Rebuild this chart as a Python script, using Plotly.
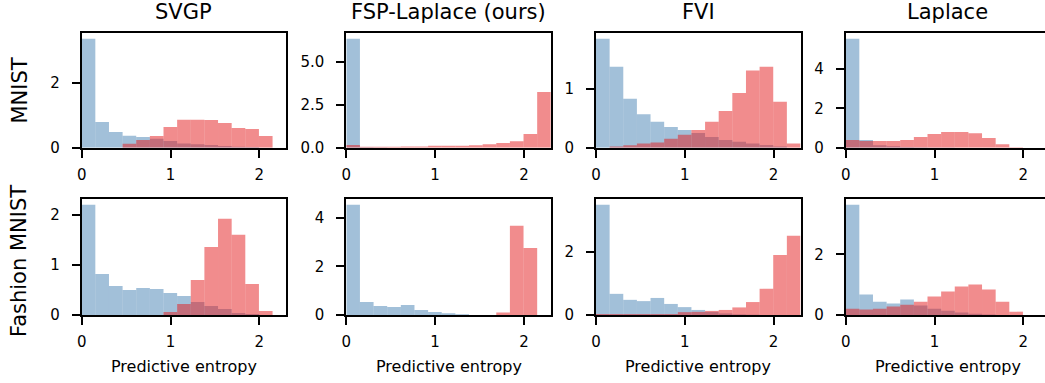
import numpy as np
import plotly.graph_objects as go

# ---------------- data ----------------
methods = ["SVGP", "FSP-Laplace (ours)", "FVI", "Laplace"]
datasets = ["MNIST", "Fashion MNIST"]
x_label = "Predictive entropy"
n_bins = 15
x_max = float(np.log(10))

svgp_mnist_in = [3.38, 0.80, 0.49, 0.37, 0.33, 0.28, 0.21, 0.13, 0.11, 0.08, 0.05, 0.03, 0.02, 0.0, 0.0]
svgp_mnist_ood = [0.0, 0.0, 0.0, 0.12, 0.24, 0.36, 0.64, 0.87, 0.87, 0.86, 0.77, 0.61, 0.58, 0.36, 0.0]
fsp_mnist_in = [6.37, 0.03, 0.01, 0.0, 0.0, 0.0, 0.0, 0.0, 0.0, 0.0, 0.0, 0.0, 0.0, 0.0, 0.0]
fsp_mnist_ood = [0.16, 0.06, 0.06, 0.06, 0.07, 0.07, 0.12, 0.12, 0.12, 0.14, 0.20, 0.27, 0.37, 0.80, 3.26]
fvi_mnist_in = [1.85, 1.375, 0.83, 0.57, 0.44, 0.35, 0.30, 0.25, 0.18, 0.13, 0.10, 0.07, 0.045, 0.02, 0.0]
fvi_mnist_ood = [0.0, 0.02, 0.04, 0.07, 0.09, 0.15, 0.22, 0.30, 0.44, 0.625, 0.93, 1.31, 1.375, 0.78, 0.07]
laplace_mnist_in = [5.55, 0.39, 0.12, 0.07, 0.03, 0.02, 0.01, 0.01, 0.0, 0.0, 0.0, 0.0, 0.0, 0.0, 0.0]
laplace_mnist_ood = [0.39, 0.34, 0.34, 0.34, 0.39, 0.54, 0.70, 0.80, 0.80, 0.73, 0.49, 0.18, 0.02, 0.0, 0.0]

svgp_fashion_in = [2.20, 0.82, 0.58, 0.50, 0.54, 0.52, 0.44, 0.38, 0.26, 0.18, 0.12, 0.04, 0.02, 0.0, 0.0]
svgp_fashion_ood = [0.0, 0.0, 0.0, 0.0, 0.0, 0.0, 0.06, 0.22, 0.70, 1.36, 1.92, 1.60, 0.62, 0.08, 0.0]
fsp_fashion_in = [4.54, 0.54, 0.37, 0.33, 0.41, 0.21, 0.12, 0.07, 0.03, 0.0, 0.0, 0.0, 0.0, 0.0, 0.0]
fsp_fashion_ood = [0.0, 0.0, 0.0, 0.0, 0.0, 0.0, 0.0, 0.0, 0.0, 0.0, 0.0, 0.10, 3.68, 2.76, 0.0]
fvi_fashion_in = [3.49, 0.67, 0.48, 0.44, 0.54, 0.35, 0.25, 0.16, 0.10, 0.05, 0.02, 0.01, 0.0, 0.0, 0.0]
fvi_fashion_ood = [0.03, 0.03, 0.03, 0.03, 0.03, 0.03, 0.09, 0.10, 0.13, 0.16, 0.24, 0.41, 0.83, 1.90, 2.51]
laplace_fashion_in = [3.64, 0.68, 0.44, 0.38, 0.51, 0.31, 0.21, 0.14, 0.08, 0.04, 0.02, 0.0, 0.0, 0.0, 0.0]
laplace_fashion_ood = [0.21, 0.18, 0.21, 0.28, 0.34, 0.44, 0.61, 0.78, 0.94, 1.01, 0.84, 0.44, 0.11, 0.0, 0.0]

panels = [
    (svgp_mnist_in, svgp_mnist_ood, [0, 2], ["0", "2"]),
    (fsp_mnist_in, fsp_mnist_ood, [0, 2.5, 5], ["0.0", "2.5", "5.0"]),
    (fvi_mnist_in, fvi_mnist_ood, [0, 1], ["0", "1"]),
    (laplace_mnist_in, laplace_mnist_ood, [0, 2, 4], ["0", "2", "4"]),
    (svgp_fashion_in, svgp_fashion_ood, [0, 1, 2], ["0", "1", "2"]),
    (fsp_fashion_in, fsp_fashion_ood, [0, 2, 4], ["0", "2", "4"]),
    (fvi_fashion_in, fvi_fashion_ood, [0, 2], ["0", "2"]),
    (laplace_fashion_in, laplace_fashion_ood, [0, 2], ["0", "2"]),
]
x_ticks = [0, 1, 2]

# ---------------- layout geometry (pixels) ----------------
W, H = 1045, 383
col_left = [81.7, 346.3, 596.0, 845.7]
col_w = 204.5
row_top = [33.3, 199.3]
row_bot = [147.7, 315.0]

blue = "rgba(70,130,180,0.5)"
red = "rgba(228,26,28,0.5)"
FONT = "DejaVu Sans"

edges = np.linspace(0, x_max, n_bins + 1)
centers = (edges[:-1] + edges[1:]) / 2
bw = edges[1] - edges[0]

fig = go.Figure()
layout = dict(
    width=W, height=H, autosize=False,
    margin=dict(l=0, r=0, t=0, b=0, pad=0),
    paper_bgcolor="white", plot_bgcolor="white",
    showlegend=False, barmode="overlay",
    font=dict(family=FONT, color="black"),
)

annotations = []
for i, (vin, vood, yt, ytt) in enumerate(panels):
    r, c = divmod(i, 4)
    k = i + 1
    xa = "x" if k == 1 else f"x{k}"
    ya = "y" if k == 1 else f"y{k}"
    fig.add_trace(go.Bar(x=centers, y=vin, width=bw, marker=dict(color=blue, line=dict(width=0)),
                         xaxis=xa, yaxis=ya, hoverinfo="skip"))
    fig.add_trace(go.Bar(x=centers, y=vood, width=bw, marker=dict(color=red, line=dict(width=0)),
                         xaxis=xa, yaxis=ya, hoverinfo="skip"))
    left = col_left[c]
    right = min(left + col_w, W)
    xr_end = x_max * (right - left) / col_w
    ymax = 1.05 * max(max(vin), max(vood))
    last = (c == 3)
    layout[f"xaxis{'' if k == 1 else k}"] = dict(
        domain=[left / W, right / W], anchor=ya, range=[0, xr_end], automargin=False,
        showgrid=False, zeroline=False, showline=True, mirror=True,
        linecolor="black", linewidth=2, ticks="outside", ticklen=8, tickwidth=2,
        tickcolor="black", tickvals=x_ticks, ticktext=[str(t) for t in x_ticks],
        tickfont=dict(size=15, family=FONT, color="black"), ticklabelstandoff=4,
    )
    layout[f"yaxis{'' if k == 1 else k}"] = dict(
        domain=[1 - row_bot[r] / H, 1 - row_top[r] / H], anchor=xa, range=[0, ymax],
        automargin=False,
        showgrid=False, zeroline=False, showline=True, mirror=(not last),
        linecolor="black", linewidth=2, ticks="outside", ticklen=8, tickwidth=2,
        tickcolor="black", tickvals=yt, ticktext=ytt,
        tickfont=dict(size=15, family=FONT, color="black"), ticklabelstandoff=9,
    )
    if r == 0:
        annotations.append(dict(text=methods[c], x=(left + col_w / 2) / W, y=1 - 12 / H,
                                xref="paper", yref="paper", showarrow=False,
                                xanchor="center", yanchor="middle",
                                font=dict(size=21, family=FONT, color="black")))
    else:
        annotations.append(dict(text=x_label, x=(left + col_w / 2) / W, y=1 - 366 / H,
                                xref="paper", yref="paper", showarrow=False,
                                xanchor="center", yanchor="middle",
                                font=dict(size=16, family=FONT, color="black")))

row_label_y = [90.5, 261.0]
for r in range(2):
    annotations.append(dict(text=datasets[r], x=19 / W, y=1 - row_label_y[r] / H,
                            xref="paper", yref="paper", showarrow=False, textangle=-90,
                            xanchor="center", yanchor="middle",
                            font=dict(size=21, family=FONT, color="black")))

layout["annotations"] = annotations
fig.update_layout(**layout)
fig.write_html("out.html")
